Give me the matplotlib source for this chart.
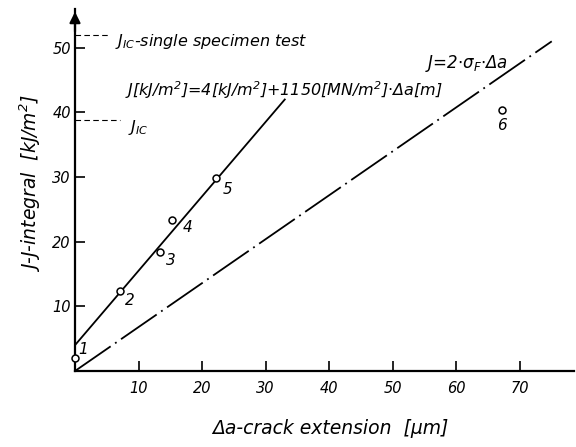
import matplotlib
matplotlib.use("Agg")
import matplotlib.pyplot as plt

# measured points (crack extension in um, J in kJ/m^2)
crack_ext = [0.0, 7.1, 13.3, 15.2, 22.2, 67.1]
j_values = [2.0, 12.4, 18.4, 23.4, 29.9, 40.3]
point_ids = ["1", "2", "3", "4", "5", "6"]

# regression line J = 4 + 1150*da, end points
fit_x = [0.0, 33.0]
fit_j = [4.0, 42.0]

# blunting line J = 2*sigma_F*da
blunt_x = [0.0, 75.0]
blunt_j = [0.0, 51.0]

j_ic = 38.9
j_ic_single = 52.0

x_ticks = [10, 20, 30, 40, 50, 60, 70]
y_ticks = [10, 20, 30, 40, 50]

plt.rcParams['font.family'] = ['DejaVu Sans']
plt.rcParams['font.style'] = 'italic'
plt.rcParams['mathtext.fontset'] = 'custom'
plt.rcParams['mathtext.it'] = 'DejaVu Sans:italic'
plt.rcParams['mathtext.rm'] = 'DejaVu Sans:italic'
plt.rcParams['mathtext.default'] = 'it'

fig = plt.figure(figsize=(5.76, 4.47), dpi=100)
W, H = 576.0, 447.0
x0, y0 = 75.0, 371.0
ax = fig.add_axes([x0 / W, (H - y0) / H, 499 / W, 362 / H])
ax.set_xlim(0, 78.5)
ax.set_ylim(0, 56)

for s in ['top', 'right']:
    ax.spines[s].set_visible(False)
for s in ['left', 'bottom']:
    ax.spines[s].set_linewidth(1.6)

ax.annotate('', xy=(0, 1.0), xytext=(0, 0.93), xycoords='axes fraction',
            arrowprops=dict(arrowstyle='-|>', color='k', lw=1.6, mutation_scale=16))

ax.set_xticks(x_ticks)
ax.set_yticks(y_ticks)
ax.set_xticklabels([str(t) for t in x_ticks], fontsize=10.5)
ax.set_yticklabels([str(t) for t in y_ticks], fontsize=10.5)
ax.tick_params(direction='in', length=7, width=1.2)
ax.tick_params(axis='x', pad=7)
ax.tick_params(axis='y', pad=3)

# lines
ax.plot(fit_x, fit_j, color='k', lw=1.3, zorder=2)
ax.plot(blunt_x, blunt_j, color='k', lw=1.3, linestyle=(0, (24, 3, 1, 3)), zorder=2)
ax.plot(crack_ext, j_values, 'o', ms=5, mfc='white', mec='k', mew=1.1, zorder=3,
        clip_on=False)

offsets = [(1.3, 1.4), (1.5, -1.5), (1.8, -1.3), (2.5, -1.2), (1.8, -1.8), (0.0, -2.3)]
for xv, yv, lab, (dx, dy) in zip(crack_ext, j_values, point_ids, offsets):
    ax.text(xv + dx, yv + dy, lab, fontsize=11, ha='center', va='center')

# J_IC markers on the y axis
ax.plot([0, 5.5], [j_ic_single, j_ic_single], color='k', lw=0.8, linestyle=(0, (5, 3)),
        clip_on=False)
ax.plot([0, 7.1], [j_ic, j_ic], color='k', lw=0.8, linestyle=(0, (5, 3)))
ax.text(6.3, 51.0, r"J$_{IC}$-single specimen test", fontsize=11.5, va='center')
ax.text(8.3, 37.6, r"J$_{IC}$", fontsize=11.5, va='center')

ax.text(7.9, 43.5, r"J[kJ/m$^2$]=4[kJ/m$^2$]+1150[MN/m$^2$]$\cdot$Δa[m]", fontsize=11.5,
        va='center')
ax.text(55.0, 47.6, r"J=2$\cdot$σ$_F$$\cdot$Δa", fontsize=12, va='center')

fig.text(30 / W, 1 - 183 / H, r"J-J-integral  [kJ/m$^2$]", rotation=90,
         fontsize=13.5, ha='center', va='center')
fig.text(330 / W, 1 - 428 / H, "Δa-crack extension  [µm]", fontsize=13.5,
         ha='center', va='center')

fig.savefig("out.png", dpi=100)
